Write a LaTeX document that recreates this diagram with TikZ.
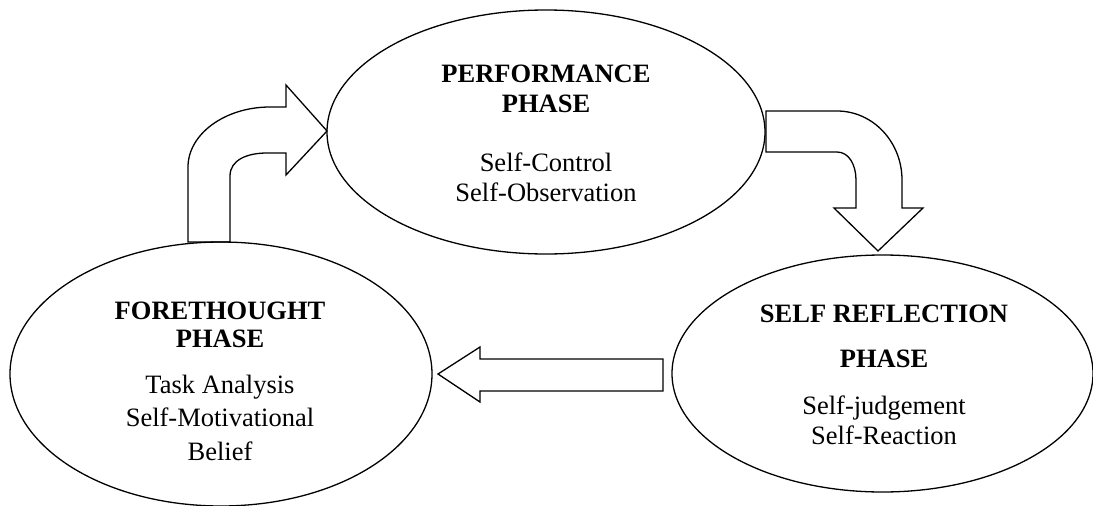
\documentclass[tikz,border=0pt]{standalone}
\usepackage{fontspec}
\setmainfont{Liberation Serif}
\usetikzlibrary{shapes.geometric}
\begin{document}
\begin{tikzpicture}[x=1pt,y=-1pt,
  phase/.style={draw, ellipse, line width=1.3pt, inner sep=0pt},
  blockarrow/.style={draw, line width=1.3pt, line join=miter},
  title/.style={anchor=base, inner sep=0pt, font=\fontsize{26.5}{30}\selectfont\bfseries},
  item/.style={anchor=base, inner sep=0pt, font=\fontsize{26.5}{30}\selectfont}]
\useasboundingbox (0,0) rectangle (1093,506);

% the three phases of the cycle
\node[phase, minimum width=438pt, minimum height=244pt] (perf) at (546,132) {};
\node[phase, minimum width=422pt, minimum height=264pt] (fore) at (221,374) {};
\node[phase, minimum width=421pt, minimum height=237pt] (refl) at (882.5,373.5) {};

% performance phase
\node[title] (perfT1) at (546,82)  {PERFORMANCE};
\node[title] (perfT2) at (546,112) {PHASE};
\node[item]  (perfI1) at (546,171) {Self-Control};
\node[item]  (perfI2) at (546,201) {Self-Observation};

% forethought phase
\node[title] (foreT1) at (220,319) {FORETHOUGHT};
\node[title] (foreT2) at (220,347) {PHASE};
\node[item]  (foreI1) at (220,393) {Task Analysis};
\node[item]  (foreI2) at (220,426) {Self-Motivational};
\node[item]  (foreI3) at (220,460) {Belief};

% self reflection phase
\node[title] (reflT1) at (884,322) {SELF REFLECTION};
\node[title] (reflT2) at (884,367) {PHASE};
\node[item]  (reflI1) at (884,414) {Self-judgement};
\node[item]  (reflI2) at (884,444) {Self-Reaction};

% block arrow: forethought -> performance (bent up and right)
\draw[blockarrow] (188,242) -- (188,167)
  .. controls (188,134) and (225,107) .. (270,107)
  -- (286,107) -- (286,85) -- (327,131) -- (286,175) -- (286,153)
  -- (267,153) .. controls (247,153) and (230,160) .. (230,176)
  -- (230,242) -- cycle;

% block arrow: performance -> self reflection (bent right and down)
\draw[blockarrow] (766,111) -- (837,111)
  .. controls (873,111) and (902,142) .. (902,180)
  -- (902,208) -- (923,208) -- (878,251) -- (834,208) -- (856,208)
  -- (856,180) .. controls (856,165) and (849,152) .. (837,152)
  -- (766,152) -- cycle;

% block arrow: self reflection -> forethought
\draw[blockarrow] (663,359) -- (480,359) -- (480,347) -- (438,374)
  -- (480,402) -- (480,391) -- (663,391) -- cycle;
\end{tikzpicture}
\end{document}
